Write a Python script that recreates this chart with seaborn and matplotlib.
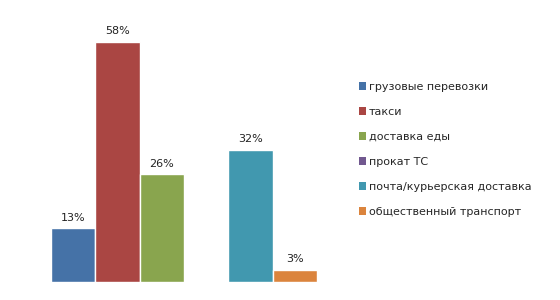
import matplotlib
matplotlib.use("Agg")
import matplotlib.pyplot as plt
import seaborn as sns
import pandas as pd
from matplotlib.patches import Patch

# данные
categories = ["грузовые перевозки", "такси", "доставка еды", "прокат ТС",
              "почта/курьерская доставка", "общественный транспорт"]
values = [13, 58, 26, 0, 32, 3]
colors = ["#4572A7", "#AA4643", "#89A54E", "#71588F", "#4198AF", "#DB843D"]

df = pd.DataFrame({"cat": categories, "val": values})

sns.set_style("white")
plt.rcParams["font.family"] = ["DejaVu Sans"]

fig = plt.figure(figsize=(5.6, 3.0), dpi=100)
ax = fig.add_axes([51 / 560, 18 / 300, 266 / 560, 248.4 / 300])

sns.barplot(data=df, x="cat", y="val", hue="cat", order=categories,
            hue_order=categories, palette=colors, width=1.0, dodge=False,
            legend=False, saturation=1, ax=ax)

for cont in ax.containers:
    lbls = [f"{v:.0f}%" if v > 0 else "" for v in cont.datavalues]
    ax.bar_label(cont, labels=lbls, padding=4, fontsize=8, color="#222222")

ax.set_xlim(-0.5, len(categories) - 0.5)
ax.set_ylim(0, 60)
ax.set_xticks([])
ax.set_yticks([])
ax.set_xlabel("")
ax.set_ylabel("")
sns.despine(ax=ax, left=True, bottom=True)

handles = [Patch(facecolor=c, edgecolor="none") for c in colors]
fig.legend(handles, categories, loc="upper left", bbox_to_anchor=(359 / 560, 1 - 82 / 300),
           frameon=False, fontsize=8, handlelength=0.65, handleheight=0.65,
           handletextpad=0.25, labelspacing=1.35, borderaxespad=0, borderpad=0)

fig.savefig("out.png", dpi=100)
